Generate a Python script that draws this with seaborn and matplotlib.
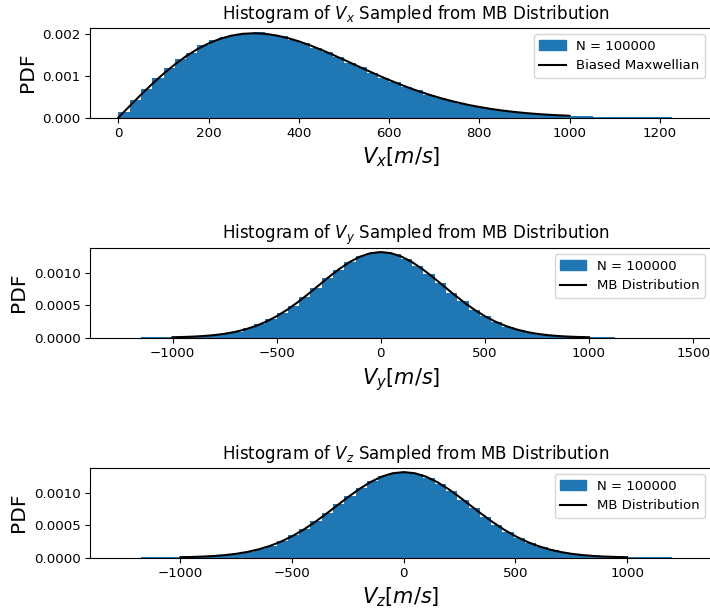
import matplotlib

matplotlib.use("Agg")
import matplotlib.pyplot as plt
import numpy as np
import seaborn as sns
from matplotlib.lines import Line2D
from matplotlib.patches import Patch

# Sample ranges and bin count
N_SAMPLES = 100000
N_BINS = 50
VX_RANGE = (0, 1252)
VY_RANGE = (-1260, 1452)
VZ_RANGE = (-1278, 1251)

# Bar heights (PDF, in units of 1e-4)
vx_pdf = [1.42, 4.18, 6.85, 9.52, 11.95, 14.1, 15.4, 17.3, 18.6, 19.2,
          19.8, 20.2, 20.5, 19.7, 19.5, 18.6, 17.9, 16.7, 15.8, 14.5,
          13.2, 12.1, 10.8, 9.6, 8.5, 7.4, 6.5, 5.5, 4.75, 4.0,
          3.35, 2.82, 2.3, 1.9, 1.55, 1.24, 1.0, 0.80, 0.62, 0.50,
          0.40, 0.31, 0.23, 0.17, 0.13, 0.09, 0.07, 0.05, 0.03, 0.02]

vy_pdf = [0.0018, 0.0037, 0.011, 0.024, 0.042, 0.080, 0.135, 0.236, 0.380, 0.615,
          0.93, 1.41, 2.04, 2.82, 3.85, 4.98, 6.38, 7.75, 9.26, 10.55,
          11.80, 12.62, 13.22, 13.27, 12.98, 12.18, 11.20, 9.84, 8.48, 6.96,
          5.63, 4.33, 3.28, 2.36, 1.67, 1.14, 0.75, 0.475, 0.296, 0.175,
          0.102, 0.057, 0.031, 0.016, 0.0074, 0.0037, 0.0018, 0.0, 0.0, 0.0018]

vz_pdf = [0.002, 0.004, 0.008, 0.016, 0.030, 0.051, 0.090, 0.148, 0.247, 0.392,
          0.597, 0.905, 1.30, 1.87, 2.55, 3.44, 4.44, 5.67, 6.92, 8.31,
          9.60, 10.90, 11.90, 12.75, 13.16, 13.31, 12.98, 12.41, 11.43, 10.33,
          8.98, 7.68, 6.30, 5.09, 3.94, 3.01, 2.20, 1.59, 1.10, 0.75,
          0.49, 0.315, 0.194, 0.118, 0.069, 0.040, 0.022, 0.012, 0.006, 0.004]

# Analytic curves (PDF in units of 1e-4)
vx_curve_v = np.arange(0, 1001, 25)
vx_curve_pdf = [0, 2.768, 5.479, 8.077, 10.511, 12.734, 14.708, 16.402, 17.794, 18.871,
                19.631, 20.075, 20.218, 20.082, 19.691, 19.076, 18.272, 17.312, 16.233, 15.068,
                13.853, 12.616, 11.384, 10.179, 9.022, 7.929, 6.907, 5.966, 5.112, 4.344,
                3.662, 3.061, 2.540, 2.090, 1.706, 1.382, 1.111, 0.886, 0.701, 0.551, 0.430]

mb_curve_v = np.arange(-1000, 1001, 50)
mb_curve_pdf = [0.0514, 0.0883, 0.148, 0.240, 0.380, 0.584, 0.874, 1.272, 1.800, 2.477,
                3.316, 4.317, 5.467, 6.733, 8.066, 9.398, 10.648, 11.735, 12.579, 13.115,
                13.298,
                13.115, 12.579, 11.735, 10.648, 9.398, 8.066, 6.733, 5.467, 4.317, 3.316,
                2.477, 1.800, 1.272, 0.874, 0.584, 0.380, 0.240, 0.148, 0.0883, 0.0514]

panels = [
    ("x", VX_RANGE, vx_pdf, vx_curve_v, vx_curve_pdf, "Biased Maxwellian"),
    ("y", VY_RANGE, vy_pdf, mb_curve_v, mb_curve_pdf, "MB Distribution"),
    ("z", VZ_RANGE, vz_pdf, mb_curve_v, mb_curve_pdf, "MB Distribution"),
]

bar_color = "#1f77b4"

fig, axes = plt.subplots(3, 1, figsize=(7.1, 6.11), dpi=100)
fig.subplots_adjust(left=0.127, right=1.002, top=0.9545, bottom=0.0875, hspace=1.45)

for ax, (comp, vrange, pdf, curve_v, curve_pdf, curve_label) in zip(axes, panels):
    edges = np.linspace(vrange[0], vrange[1], N_BINS + 1)
    centers = 0.5 * (edges[:-1] + edges[1:])
    sns.histplot(x=centers, weights=np.array(pdf) * 1e-4, bins=N_BINS, binrange=vrange,
                 stat="count", color=bar_color, alpha=1, linewidth=0, ax=ax)
    sns.lineplot(x=curve_v, y=np.array(curve_pdf) * 1e-4, color="black",
                 linewidth=1.5, legend=False, ax=ax)

    # the reference titles sit a little right of the axes centre
    ax.set_title(rf"Histogram of $V_{comp}$ Sampled from MB Distribution",
                 fontsize=12, x=0.524)
    ax.set_xlabel(rf"$V_{comp} [m/s]$", fontsize=15)
    ax.set_ylabel("PDF", fontsize=14.5)
    ax.tick_params(labelsize=9.6)

    handles = [Patch(color=bar_color, label=f"N = {N_SAMPLES}"),
               Line2D([0], [0], color="black", linewidth=1.5, label=curve_label)]
    ax.legend(handles=handles, loc="upper right", fontsize=9.5)

fig.savefig("out.png", dpi=100)
